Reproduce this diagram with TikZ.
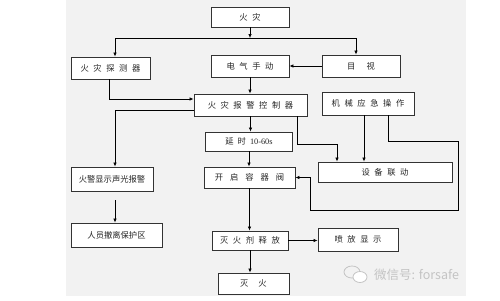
\documentclass[tikz,border=0pt]{standalone}
\usepackage{fontspec}
\setmainfont{Noto Sans CJK SC}
\newfontfamily\ls[LetterSpace=55]{Noto Sans CJK SC}
\newfontfamily\rmlat{Liberation Serif}
\usepackage{tikz}
\usetikzlibrary{arrows.meta}

\definecolor{bggray}{HTML}{F2F2F2}
\definecolor{boxline}{HTML}{333333}
\definecolor{wmgray}{HTML}{C4C4C4}

\tikzset{
  box/.style={draw=boxline, line width=0.9pt, fill=white, inner sep=0pt,
    font=\fontsize{8.3}{9}\selectfont, text=black!85},
  arr/.style={-{Latex[length=4pt,width=3.4pt]}, line width=0.6pt},
  ln/.style={line width=0.6pt}
}

\begin{document}
\begin{tikzpicture}[x=1pt,y=-1pt]
\useasboundingbox (0,0) rectangle (500,300);
\fill[bggray] (66,0) rectangle (466,296);

% boxes
\node[box, minimum width=78, minimum height=20] (fire) at (250,17) {\ls 火灾};
\node[box, minimum width=79, minimum height=22] (detector) at (110.5,68) {\ls 火灾探测器};
\node[box, minimum width=78, minimum height=22] (manual) at (250,66) {\ls 电气手动};
\node[box, minimum width=78, minimum height=22] (visual) at (361,66) {目\hspace{11pt}视};
\node[box, minimum width=113, minimum height=22] (ctrl) at (250.5,105) {\ls 火灾报警控制器};
\node[box, minimum width=92, minimum height=23] (mech) at (368,103.5) {\ls 机械应急操作};
\node[box, minimum width=87, minimum height=19] (delay) at (249,141.5) {延\hspace{4pt}时\hspace{4pt}{\rmlat 10-60s}};
\node[box, minimum width=91, minimum height=21] (valve) at (249.5,177.5) {开\hspace{7pt}启\hspace{7pt}容\hspace{7pt}器\hspace{7pt}阀};
\node[box, minimum width=134, minimum height=20] (linkage) at (385,172) {\ls 设备联动};
\node[box, minimum width=82, minimum height=24] (alarm) at (112,179) {火警显示声光报警};
\node[box, minimum width=91, minimum height=24] (evac) at (116.5,235) {人员撤离保护区};
\node[box, minimum width=76, minimum height=19] (release) at (250,240.5) {\ls 灭火剂释放};
\node[box, minimum width=80, minimum height=23] (spray) at (358,239.5) {\ls 喷放显示};
\node[box, minimum width=71, minimum height=21] (out) at (253.5,283.5) {灭\hspace{10pt}火};

% branch points
\coordinate (split) at (250,38);
\coordinate (jL) at (115,38);
\coordinate (jR) at (356,38);
\coordinate (c1) at (337,144);
\coordinate (r1) at (458,141);
\coordinate (r2) at (310,210);

% connectors
\draw[arr] (fire.south) -- (split);
\draw[ln] (jL) -- (jR);
\draw[arr] (jL) -- (jL |- detector.north);
\draw[arr] (jR) -- (jR |- visual.north);
\draw[arr] (visual.west) -- (manual.east);
\draw[arr] (manual.south) -- (manual.south |- ctrl.north);
\draw[arr] ([xshift=-1.5pt]detector.south) |- ([yshift=6pt]ctrl.west);
\draw[arr] ([yshift=-5pt]ctrl.west) -| ([xshift=3pt]alarm.north);
\draw[arr] (ctrl.south |- ctrl.south) -- (ctrl.south |- delay.north);
\draw[arr] (delay.south) -- (delay.south |- valve.north);
\draw[arr] ([xshift=-10pt]ctrl.south east) |- (c1) -- (c1 |- linkage.north);
\draw[arr] ([xshift=-4pt]mech.south) -- ([xshift=-4pt]mech.south |- linkage.north);
\draw[arr] ([xshift=20pt]mech.south) |- (r1) |- (r2) |- (valve.east);
\draw[arr] (valve.south) -- (valve.south |- release.north);
\draw[arr] ([xshift=3pt,yshift=-9pt]alarm.south) -- ([xshift=3pt]alarm.south |- evac.north);
\draw[arr] (release.east) -- (release.east -| spray.west);
\draw[arr] (release.south) -- (release.south |- out.north);

% watermark
\draw[wmgray, line width=0.8pt] (352,272) ellipse (8 and 6);
\draw[wmgray, line width=0.8pt, fill=white] (360,277) ellipse (7 and 5.5);
\node[text=wmgray, font=\fontsize{12.5}{13}\selectfont, inner sep=0pt, anchor=west] (wm) at (374,275) {微信号: forsafe};
\end{tikzpicture}
\end{document}
